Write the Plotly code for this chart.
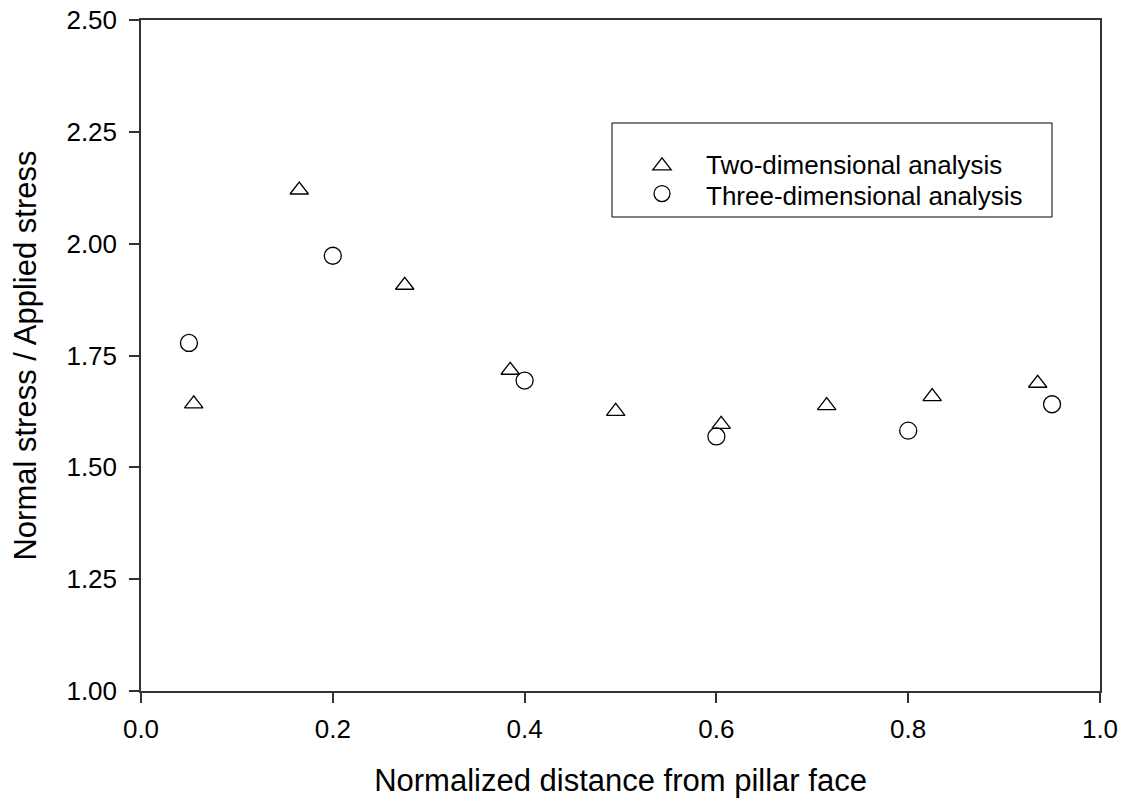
import plotly.graph_objects as go

# Data
x_two = [0.055, 0.165, 0.275, 0.385, 0.495, 0.605, 0.715, 0.825, 0.935]
y_two = [1.642, 2.120, 1.907, 1.717, 1.625, 1.596, 1.638, 1.658, 1.688]
x_three = [0.05, 0.20, 0.40, 0.60, 0.80, 0.95]
y_three = [1.778, 1.973, 1.694, 1.569, 1.582, 1.641]

names = ["Two-dimensional analysis", "Three-dimensional analysis"]
x_ticks = [0.0, 0.2, 0.4, 0.6, 0.8, 1.0]
y_ticks = [1.00, 1.25, 1.50, 1.75, 2.00, 2.25, 2.50]

FONT = "Liberation Sans, Arial, sans-serif"
AX = "#333333"

OFF = 8  # page body margin
W, H = 1110, 790
L, T = 141 - OFF, 20 - OFF
R = W - (1100 - OFF)
B = H - (691 - OFF)
PW, PH = W - L - R, H - T - B


def px(xp):
    return (xp - OFF - L) / PW


def py(yp):
    return (H - B - (yp - OFF)) / PH


fig = go.Figure()
fig.add_trace(go.Scatter(
    x=x_two, y=y_two, mode="markers", name="",
    marker=dict(symbol="triangle-up-open", size=16, color="black", line=dict(width=1.3, color="black")),
))
fig.add_trace(go.Scatter(
    x=x_three, y=y_three, mode="markers", name="",
    marker=dict(symbol="circle-open", size=17, color="black", line=dict(width=1.3, color="black")),
))

fig.update_layout(
    width=W, height=H,
    margin=dict(l=L, r=R, t=T, b=B),
    paper_bgcolor="white", plot_bgcolor="white",
    font=dict(family=FONT, size=26, color="black"),
    showlegend=True,
    legend=dict(
        x=px(642), y=py(147), xanchor="left", yanchor="top",
        bgcolor="rgba(0,0,0,0)", borderwidth=0,
        font=dict(size=19, family=FONT, color="black"),
        itemsizing="trace", tracegroupgap=0,
    ),
    shapes=[dict(type="rect", xref="paper", yref="paper",
                 x0=px(612), x1=px(1052), y0=py(217), y1=py(123),
                 line=dict(color="black", width=1))],
    annotations=[
        dict(text=names[0], xref="paper", yref="paper", x=px(704), y=py(165),
             xanchor="left", yanchor="middle", showarrow=False,
             font=dict(size=26, family=FONT, color="black")),
        dict(text=names[1], xref="paper", yref="paper", x=px(704), y=py(196),
             xanchor="left", yanchor="middle", showarrow=False,
             font=dict(size=26, family=FONT, color="black")),
    ],
)
fig.update_xaxes(
    range=[0, 1], tickvals=x_ticks, ticktext=[f"{v:.1f}" for v in x_ticks],
    showgrid=False, zeroline=False, automargin=False,
    showline=True, linecolor=AX, linewidth=1.5, mirror=True,
    ticks="outside", ticklen=10, tickcolor=AX, tickwidth=1.5,
    ticklabelstandoff=4, ticklabeloverflow="allow",
    tickfont=dict(size=26, family=FONT),
    title=dict(text="Normalized distance from pillar face", font=dict(size=31, family=FONT), standoff=28),
)
fig.update_yaxes(
    range=[1.0, 2.5], tickvals=y_ticks, ticktext=[f"{v:.2f}" for v in y_ticks],
    showgrid=False, zeroline=False, automargin=False,
    showline=True, linecolor=AX, linewidth=1.5, mirror=True,
    ticks="outside", ticklen=10, tickcolor=AX, tickwidth=1.5,
    ticklabelstandoff=7, ticklabeloverflow="allow",
    tickfont=dict(size=26, family=FONT),
    title=dict(text="Normal stress / Applied stress", font=dict(size=31, family=FONT), standoff=24),
)

fig.write_html("out.html")
